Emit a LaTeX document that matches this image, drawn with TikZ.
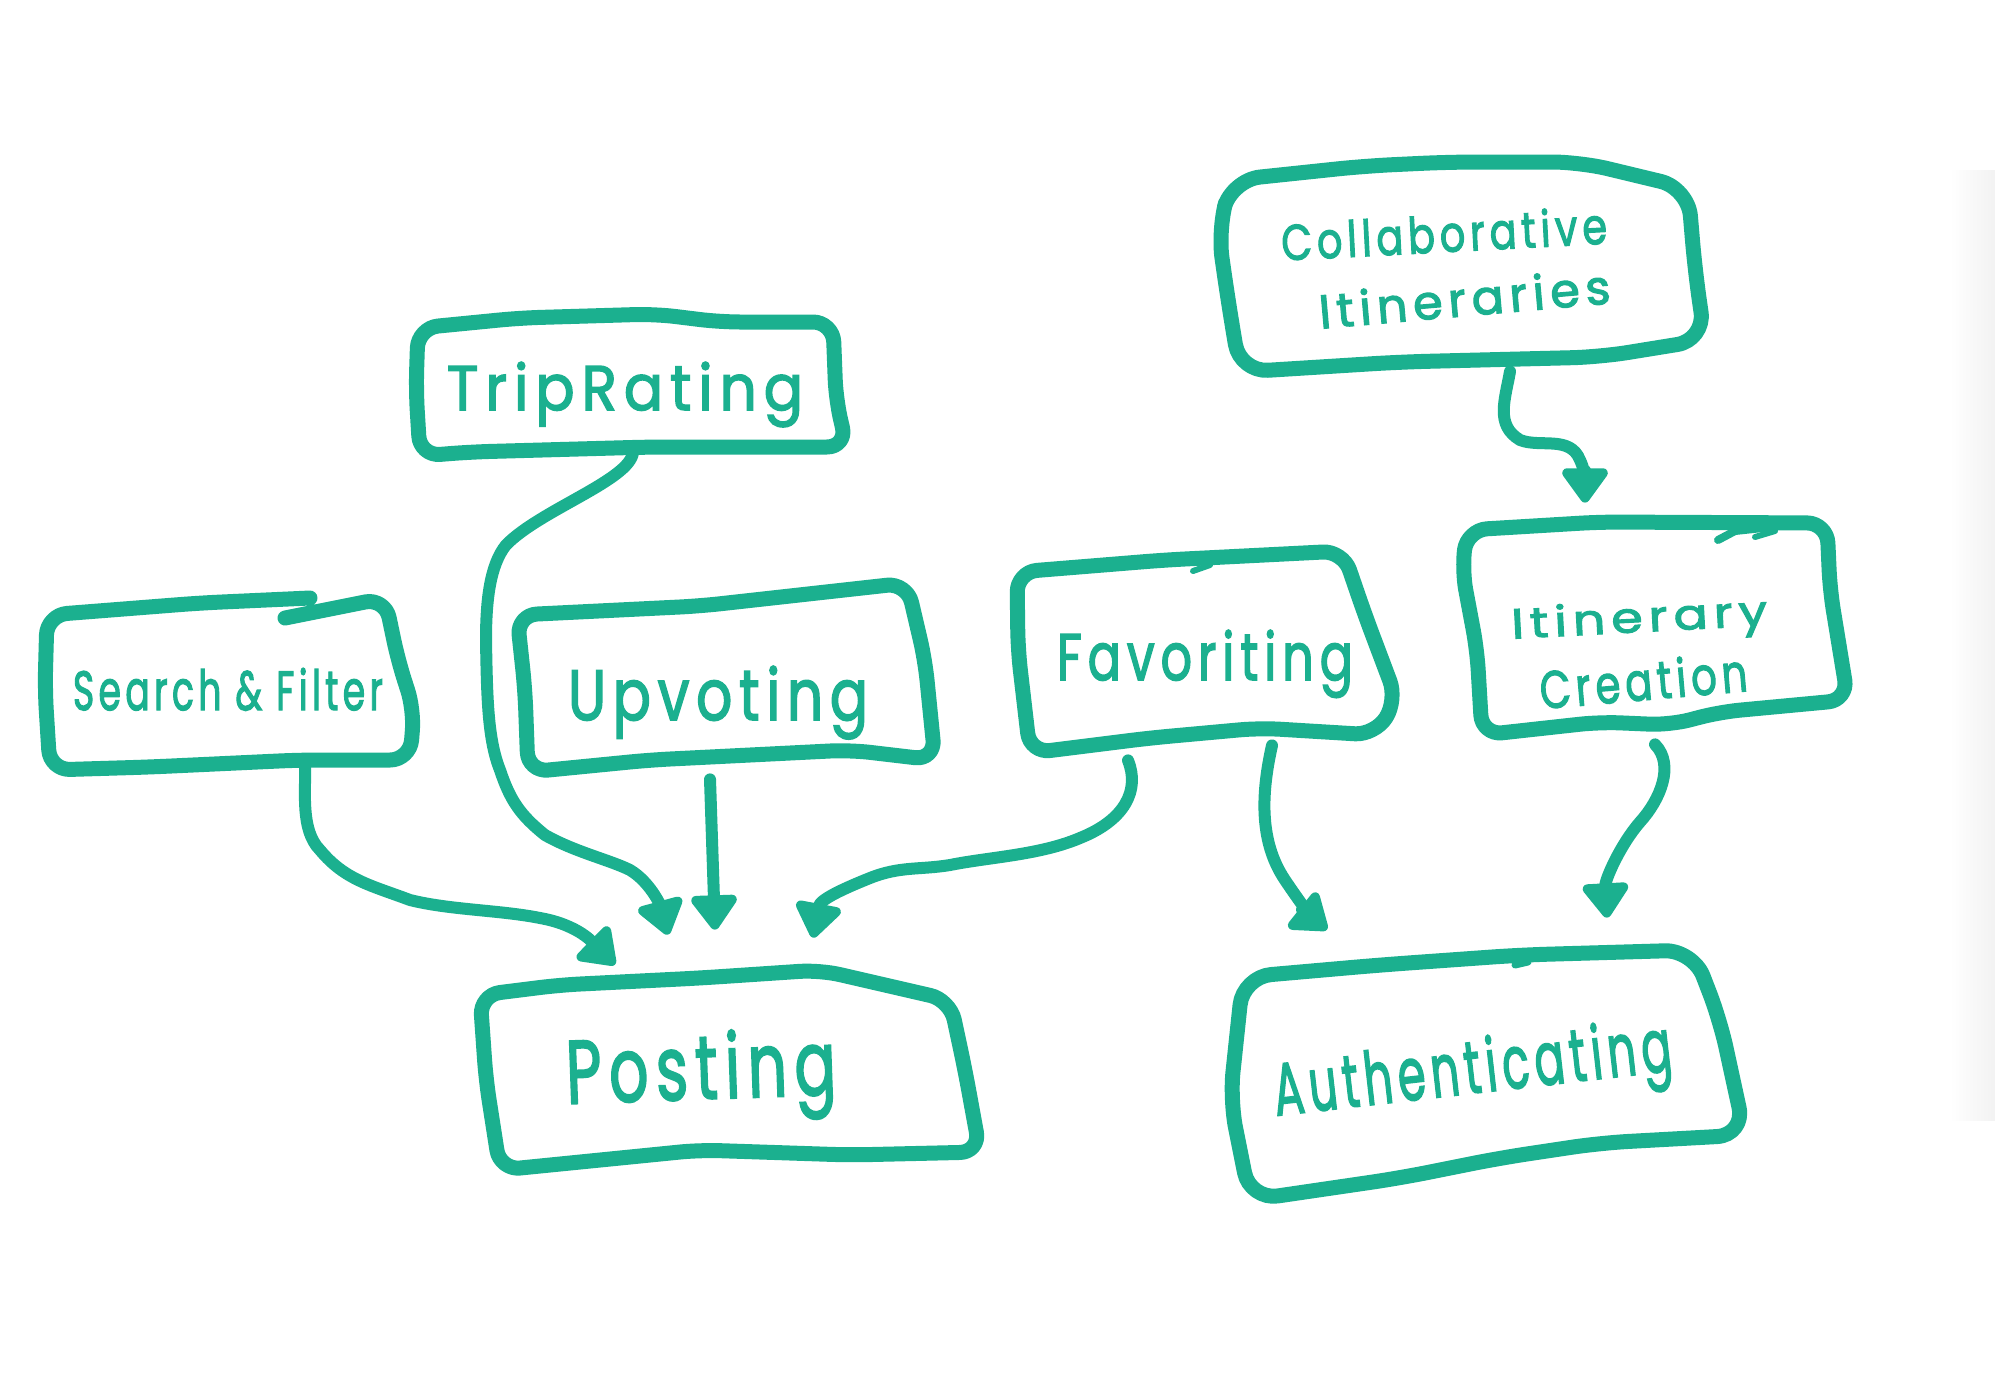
\documentclass[tikz,border=0pt]{standalone}
\usepackage{fontspec}
\usepackage{graphicx}
\usetikzlibrary{arrows.meta,calc}
\newfontfamily\hand[LetterSpace=12,FakeBold=2.5]{Poppins}
\definecolor{teal}{RGB}{27,176,143}
\newcommand{\fitw}[3]{\resizebox{#1pt}{#2pt}{\hand #3}}
\begin{document}
\begin{tikzpicture}[x=0.5pt,y=-0.5pt,
  outline/.style={draw=teal,line width=7.5pt,line cap=round,line join=round,rounded corners=10pt},
  conn/.style={draw=teal,line width=6pt,line cap=round,line join=round,
    -{Triangle[length=19pt,width=26pt,round]}},
  boxnode/.style={draw=none,rectangle,inner sep=0pt},
  lbl/.style={inner sep=0pt,anchor=base,text=teal}]
\useasboundingbox (0,0) rectangle (1995,1376);
\fill[white] (0,0) rectangle (1995,1376);
\shade[left color=white,right color=black!5] (1950,170) rectangle (1995,1120);

% ---- invisible box nodes (for connector anchors)
\node[boxnode,minimum width=212pt,minimum height=67pt] (trip) at (627,385) {};
\node[boxnode,minimum width=182pt,minimum height=80pt] (search) at (230,685) {};
\node[boxnode,minimum width=206pt,minimum height=87pt] (upv) at (726,677) {};
\node[boxnode,minimum width=186pt,minimum height=95pt] (fav) at (1203,650) {};
\node[boxnode,minimum width=240pt,minimum height=98pt] (collab) at (1460,266) {};
\node[boxnode,minimum width=190pt,minimum height=102pt] (itin) at (1655,627) {};
\node[boxnode,minimum width=244pt,minimum height=87pt] (post) at (728,1072) {};
\node[boxnode,minimum width=252pt,minimum height=120pt] (auth) at (1482,1075) {};

% ---- hand-drawn outlines
\draw[outline] (418,328) -- (520,318) -- (655,314) -- (720,322) -- (833,322) -- (836,400) -- (847,447) -- (650,447) -- (470,452) -- (420,456) -- (416,390) -- cycle;

\draw[outline] (285,618) -- (385,598) -- (398,660) -- (414,710) -- (410,760) -- (300,760) -- (150,767) -- (50,770) -- (45,690) -- (47,615) -- (200,603) -- (310,598);

\draw[outline] (517,615) -- (700,606) -- (907,583) -- (925,660) -- (935,760) -- (850,750) -- (650,760) -- (528,772) -- (525,690) -- cycle;

\draw[outline] (1017,572) -- (1165,560) -- (1343,551) -- (1365,615) -- (1397,700) -- (1375,735) -- (1260,728) -- (1150,738) -- (1030,753) -- (1018,650) -- cycle;
\draw[teal,line width=3pt,line cap=round] (1193,571) -- (1210,565);

\draw[outline,rounded corners=14pt] (1232,180) -- (1365,166) -- (1450,162) -- (1580,162) -- (1688,188) -- (1695,270) -- (1705,340) -- (1600,357) -- (1400,362) -- (1240,372) -- (1228,300) -- (1218,230) -- cycle;

\draw[outline] (1467,530) -- (1600,522) -- (1827,523) -- (1830,590) -- (1848,700) -- (1720,712) -- (1670,725) -- (1600,722) -- (1482,735) -- (1477,650) -- (1462,570) -- cycle;
\draw[teal,line width=4pt,line cap=round] (1718,540) -- (1735,531) -- (1772,527);
\draw[teal,line width=3pt,line cap=round] (1755,537) -- (1775,531);

\draw[outline] (480,995) -- (560,985) -- (700,978) -- (820,970) -- (950,1000) -- (965,1070) -- (980,1152) -- (850,1155) -- (700,1150) -- (500,1170) -- (486,1080) -- cycle;

\draw[outline,rounded corners=14pt] (1243,977) -- (1380,965) -- (1520,955) -- (1693,950) -- (1720,1020) -- (1745,1135) -- (1600,1143) -- (1500,1158) -- (1400,1178) -- (1250,1200) -- (1230,1100) -- cycle;
\draw[teal,line width=3.5pt,line cap=round] (1515,965) -- (1528,962);

% ---- labels
\node[lbl] (tripT) at (625,410) {\fitw{178}{24}{TripRating}};
\node[lbl] (searchT) at (228,710) {\fitw{155}{21}{Search \& Filter}};
\node[lbl] (upvT) at (718,720) {\fitw{150}{27}{Upvoting}};
\node[lbl] (favT) at (1205,680) {\fitw{148}{25}{Favoriting}};
\node[lbl,rotate=3] (collabT1) at (1445,252) {\fitw{163}{19}{Collaborative}};
\node[lbl,rotate=5] (collabT2) at (1466,316) {\fitw{146}{18}{Itineraries}};
\node[lbl,rotate=3] (itinT1) at (1640,632) {\fitw{128}{16}{Itinerary}};
\node[lbl,rotate=5] (itinT2) at (1645,700) {\fitw{104}{20}{Creation}};
\node[lbl,rotate=2] (postT) at (702,1099) {\fitw{135}{34}{Posting}};
\node[lbl,rotate=6.5] (authT) at (1475,1093) {\fitw{200}{28}{Authenticating}};

% ---- connectors
\draw[conn] ($(trip.south)+(6,0)$) .. controls (630,480) and (540,510) .. (506,545)
  .. controls (490,565) and (486,600) .. (486,640)
  .. controls (487,700) and (488,740) .. (500,770)
  .. controls (510,800) and (520,815) .. (545,835)
  .. controls (575,852) and (610,860) .. (630,870)
  .. controls (650,882) and (660,905) .. ($(post.north)+(-60,-50)$);

\draw[conn] ($(search.south)+(75,0)$) .. controls (306,790) and (300,830) .. (320,850)
  .. controls (345,880) and (370,885) .. (410,900)
  .. controls (450,910) and (500,910) .. (540,918)
  .. controls (580,925) and (595,945) .. ($(post.north)+(-113,-20)$);

\draw[conn] ($(upv.south)+(-16,15)$) -- ($(post.north)+(-13,-55)$);

\draw[conn] ($(fav.south)+(-75,15)$) .. controls (1140,790) and (1125,820) .. (1080,838)
  .. controls (1040,855) and (990,857) .. (950,865)
  .. controls (920,870) and (900,866) .. (870,878)
  .. controls (840,890) and (820,900) .. ($(post.north)+(85,-47)$);

\draw[conn] ($(fav.south)+(69,0)$) .. controls (1262,790) and (1258,840) .. (1285,880)
  .. controls (1305,910) and (1315,920) .. ($(auth.north)+(-155,-25)$);

\draw[conn] ($(itin.south)+(0,15)$) .. controls (1675,765) and (1660,800) .. (1640,822)
  .. controls (1620,845) and (1605,880) .. ($(auth.north)+(125,-37)$);

\draw[conn] ($(collab.south)+(50,7)$) .. controls (1505,400) and (1495,425) .. (1520,440)
  .. controls (1540,448) and (1570,435) .. (1580,460)
  .. controls (1587,475) and (1585,490) .. ($(itin.north)+(-70,-22)$);
\end{tikzpicture}
\end{document}
